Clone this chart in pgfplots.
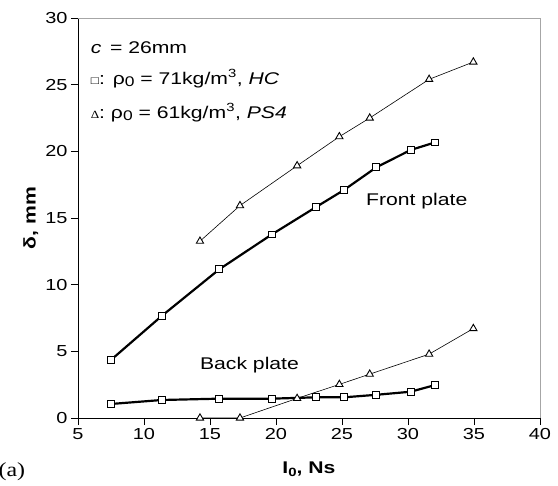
\documentclass[border=0pt]{standalone}
\usepackage{fontspec}
\setmainfont[FakeStretch=1.25]{Liberation Sans}
\newfontfamily\serifa[FakeStretch=1.2]{Liberation Serif}
\usepackage{pgfplots}
\pgfplotsset{compat=1.18}
\newcommand{\fs}[1]{\fontsize{#1}{#1}\selectfont}
\newcommand{\rhoz}{ρ\raisebox{-0.3ex}{\fs{14}0}}
\begin{document}
\begin{tikzpicture}
\path[use as bounding box] (-78bp,-68bp) rectangle (480bp,418bp);
\begin{axis}[
  scale only axis, width=462bp, height=400bp,
  xmin=5, xmax=40, ymin=0, ymax=30,
  xtick={5,10,...,40}, ytick={0,5,...,30},
  axis x line*=bottom, axis y line*=left,
  axis line style={-, line width=0.8pt},
  tick align=outside, major tick length=7bp,
  tick style={black, line width=0.8pt},
  ticklabel style={font=\fs{16}},
  /pgf/number format/assume math mode=true,
  xlabel={\bfseries I\raisebox{-0.3ex}{\fs{12}0}, Ns},
  ylabel={\bfseries δ, mm},
  xlabel style={at={(axis description cs:0.5,-0.128)}, anchor=center, font=\fs{17}},
  ylabel style={at={(axis description cs:-0.102,0.5)}, anchor=center, font=\fs{17}},
  clip=false,
]
\draw[gray!70, line width=0.8pt] (rel axis cs:0,1) -- (rel axis cs:1,1) -- (rel axis cs:1,0);
% front plate, HC (squares)
\addplot[black, line width=2.2pt, mark=square*, mark size=3.4bp,
  mark options={fill=white, draw=black, line width=0.9pt, solid}] coordinates {
  (7.48,4.34) (11.34,7.65) (15.7,11.15) (19.67,13.76) (23.0,15.8)
  (25.15,17.1) (27.6,18.8) (30.2,20.1) (32.05,20.67)};
% front plate, PS4 (triangles)
\addplot[black, line width=0.6pt, mark=triangle*, mark size=4.2bp,
  mark options={fill=white, draw=black, line width=0.9pt}] coordinates {
  (14.24,13.26) (17.27,15.93) (21.6,18.92) (24.8,21.1) (27.1,22.5)
  (31.6,25.4) (34.95,26.7)};
% back plate, HC
\addplot[black, line width=2.2pt, mark=square*, mark size=3.4bp,
  mark options={fill=white, draw=black, line width=0.9pt}] coordinates {
  (7.48,1.05) (11.34,1.35) (15.7,1.45) (19.67,1.45) (23.0,1.55)
  (25.15,1.55) (27.6,1.74) (30.2,1.97) (32.05,2.47)};
% back plate, PS4
\addplot[black, line width=0.6pt, mark=triangle*, mark size=4.2bp,
  mark options={fill=white, draw=black, line width=0.9pt}] coordinates {
  (14.24,0) (17.27,0) (21.6,1.47) (24.8,2.52) (27.1,3.29)
  (31.6,4.79) (34.95,6.71)};
\node[anchor=west, font=\fs{17}] at (axis cs:5.7,27.77) {\textit{c}\, = 26mm};
\node[anchor=west, font=\fs{17}] at (axis cs:5.7,25.45) {{\fs{11}□}: \rhoz\ = 71kg/m\textsuperscript{3}, \textit{HC}};
\node[anchor=west, font=\fs{17}] at (axis cs:5.7,22.9) {{\serifa\fs{11}Δ}: \rhoz\ = 61kg/m\textsuperscript{3}, \textit{PS4}};
\node[anchor=west, font=\fs{17}] at (axis cs:26.56,16.3) {Front plate};
\node[anchor=west, font=\fs{17}] at (axis cs:13.98,3.94) {Back plate};
\node[font=\serifa\fs{20}] at (axis description cs:-0.143,-0.135) {(a)};
\end{axis}
\end{tikzpicture}
\end{document}
